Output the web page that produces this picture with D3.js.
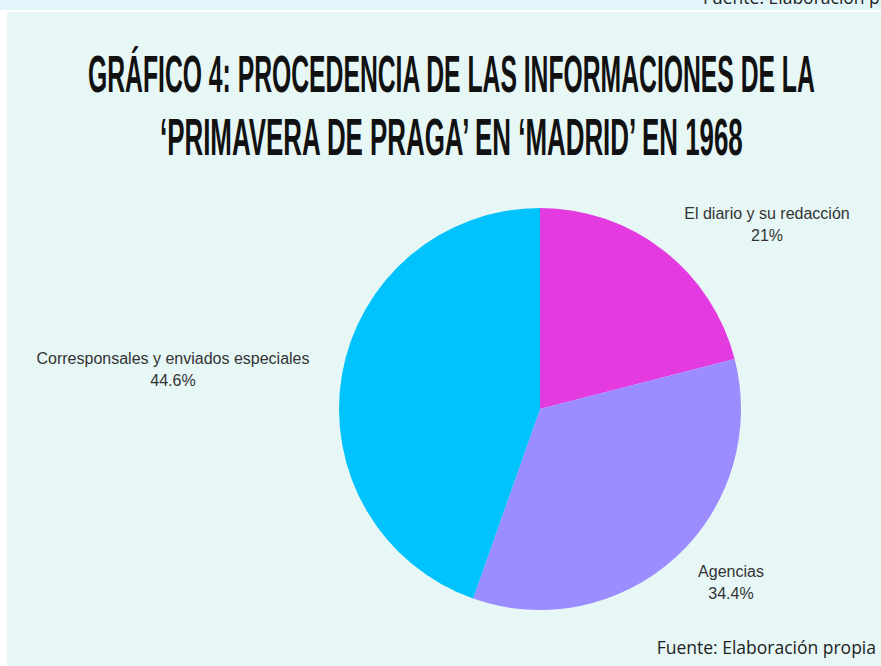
<!DOCTYPE html>
<html>
<head>
<meta charset="utf-8">
<title>Gráfico 4</title>
<script src="https://cdn.jsdelivr.net/npm/d3@7"></script>
<style>
  body { margin: 0; background: #fff; }
  .label { font-family: "Liberation Sans", Arial, sans-serif; font-size: 16px; fill: #333; }
  .title { font-family: "Liberation Sans Narrow", "Liberation Sans", sans-serif; font-weight: bold; fill: #111; }
  .source { font-family: "Open Sans", sans-serif; font-size: 17.5px; fill: #222; }
</style>
</head>
<body>
<div id="chart"></div>
<script>
var categories = ["El diario y su redacción", "Agencias", "Corresponsales y enviados especiales"];
var values = [21, 34.4, 44.6];
var valueLabels = ["21%", "34.4%", "44.6%"];
var colors = ["#e43be0", "#9b8cff", "#00c2fc"];
var titleLines = ["GRÁFICO 4: PROCEDENCIA DE LAS INFORMACIONES DE LA", "‘PRIMAVERA DE PRAGA’ EN ‘MADRID’ EN 1968"];

var W = 881, H = 666;
var svg = d3.select("#chart").append("svg")
  .attr("width", W).attr("height", H);

// backgrounds
svg.append("rect").attr("x", 0).attr("y", 0).attr("width", W).attr("height", 10).attr("fill", "#e2f5fa");
svg.append("rect").attr("x", 7).attr("y", 12).attr("width", W - 7).attr("height", H - 12).attr("fill", "#e6f7f6");

// source line of the page above, cut off at the top edge
svg.append("text").attr("class", "source")
  .attr("x", 703).attr("y", 4)
  .text("Fuente: Elaboración propia");

// title: squeeze each line horizontally to its width in the reference
var titleBox = [{ x: 88, w: 727, y: 92 }, { x: 160, w: 583, y: 155 }];
svg.selectAll(".title").data(titleLines).enter().append("text")
  .attr("class", "title")
  .attr("font-size", 52)
  .text(function(d) { return d; })
  .attr("transform", function(d, i) {
    var natural = this.getComputedTextLength();
    var sx = titleBox[i].w / natural;
    return "translate(" + titleBox[i].x + "," + titleBox[i].y + ") scale(" + sx + ",1)";
  });

// pie
var cx = 540, cy = 409, r = 201;
var data = categories.map(function(c, i) { return { name: c, value: values[i], label: valueLabels[i], color: colors[i] }; });

var pie = d3.pie().sort(null).value(function(d) { return d.value; });
var arc = d3.arc().innerRadius(0).outerRadius(r);

var g = svg.append("g").attr("transform", "translate(" + cx + "," + cy + ")");
g.selectAll("path").data(pie(data)).enter().append("path")
  .attr("d", arc)
  .attr("fill", function(d) { return d.data.color; });

// outside labels
var labelPos = [
  { x: 767, y: 219 },
  { x: 731, y: 577 },
  { x: 173, y: 364 }
];
var lab = svg.selectAll(".lab").data(data).enter().append("g").attr("class", "lab");
lab.append("text").attr("class", "label")
  .attr("text-anchor", "middle")
  .attr("x", function(d, i) { return labelPos[i].x; })
  .attr("y", function(d, i) { return labelPos[i].y; })
  .text(function(d) { return d.name; });
lab.append("text").attr("class", "label")
  .attr("text-anchor", "middle")
  .attr("x", function(d, i) { return labelPos[i].x; })
  .attr("y", function(d, i) { return labelPos[i].y + 22; })
  .text(function(d) { return d.label; });

// source
svg.append("text").attr("class", "source")
  .attr("x", 876).attr("y", 654)
  .attr("text-anchor", "end")
  .text("Fuente: Elaboración propia");
</script>
</body>
</html>
